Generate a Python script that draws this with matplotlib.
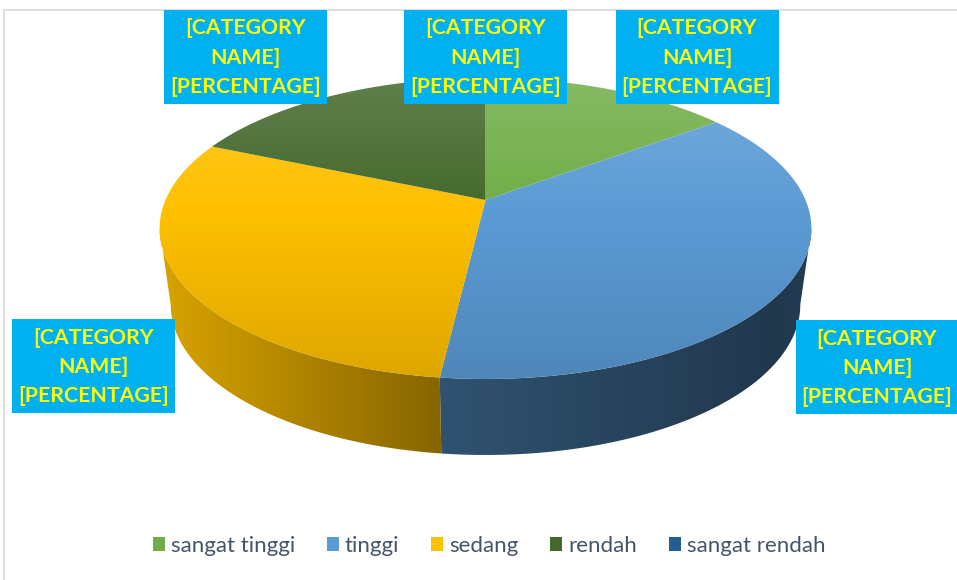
import numpy as np
import matplotlib
matplotlib.use("Agg")
import matplotlib.pyplot as plt
from matplotlib.patches import Polygon, Rectangle, Patch
from matplotlib.colors import to_rgb

# ---------------- data ----------------
categories = ["sangat tinggi", "tinggi", "sedang", "rendah", "sangat rendah"]
values = [4, 10, 8, 5, 0]
colors = ["#70AD47", "#5B9BD5", "#FFC000", "#43682B", "#255E91"]
label_text = "[CATEGORY\nNAME]\n[PERCENTAGE]"

# ---------------- figure ----------------
W, H = 957, 580
fig = plt.figure(figsize=(W / 100, H / 100), dpi=100)
ax = fig.add_axes([0, 0, 1, 1])
ax.set_xlim(0, W)
ax.set_ylim(H, 0)
ax.axis("off")

LABEL_FONT = ["Lato", "DejaVu Sans"]

# chart area border
ax.plot([4, 4], [9.5, H], color="#D9D9D9", lw=1.2, zorder=1)
ax.plot([4, W], [9.5, 9.5], color="#D9D9D9", lw=1.2, zorder=1)

# ---------------- 3D pie geometry ----------------
CX, CY = 485.5, 200.0
RX, CV, K = 320.0, 145.1, 0.1893
BOT_DY, BOT_CS, BOT_RS = 76.0, 1.0, 0.966


def project(theta_deg, bottom=False):
    t = np.radians(theta_deg)
    u, v = np.cos(t), np.sin(t)
    w = 1 + K * v
    if bottom:
        return CX + RX * BOT_RS * u / w, CY + BOT_DY - CV * BOT_CS * v / w
    return CX + RX * u / w, CY - CV * v / w


vals = np.asarray(values, dtype=float)
frac = vals / vals.sum()
cum = np.concatenate([[0], np.cumsum(frac)])
theta1 = 90 - cum[:-1] * 360   # start (clockwise)
theta2 = 90 - cum[1:] * 360    # end

a_min = np.degrees(np.arcsin(K))
vis_lo, vis_hi = 180 + a_min, 360 - a_min


def clip_image(rgb, extent, poly, z):
    im = ax.imshow(rgb, extent=extent, origin="upper", aspect="auto",
                   interpolation="bilinear", zorder=z)
    im.set_clip_path(poly)


def side_factor(x):
    return np.interp(x, [160, 440, 780, 812], [0.85, 0.53, 0.36, 0.40])


# side walls
for i in range(len(values)):
    if frac[i] <= 0:
        continue
    lo, hi = theta2[i], theta1[i]
    for shift in (-360, 0, 360):
        a, b = max(lo + shift, vis_lo), min(hi + shift, vis_hi)
        if b > a:
            th = np.linspace(a, b, 120)
            xt, yt = project(th)
            xb, yb = project(th[::-1], bottom=True)
            pts = np.column_stack([np.concatenate([xt, xb]), np.concatenate([yt, yb])])
            poly = Polygon(pts, closed=True, facecolor="none", edgecolor="none")
            ax.add_patch(poly)
            x0, x1 = pts[:, 0].min() - 2, pts[:, 0].max() + 2
            y0, y1 = pts[:, 1].min() - 2, pts[:, 1].max() + 2
            xs = np.linspace(x0, x1, 300)
            base = np.array(to_rgb(colors[i]))
            row = base[None, :] * side_factor(xs)[:, None]
            rgb = np.repeat(row[None, :, :], 4, axis=0)
            clip_image(np.clip(rgb, 0, 1), (x0, x1, y1, y0), poly, 2)

# top faces
for i in range(len(values)):
    if frac[i] <= 0:
        continue
    th = np.linspace(theta1[i], theta2[i], 200)
    xa, ya = project(th)
    pts = np.column_stack([np.concatenate([[CX], xa]), np.concatenate([[CY], ya])])
    poly = Polygon(pts, closed=True, facecolor="none", edgecolor="none")
    ax.add_patch(poly)
    x0, x1 = pts[:, 0].min() - 2, pts[:, 0].max() + 2
    y0, y1 = pts[:, 1].min() - 2, pts[:, 1].max() + 2
    ys = np.linspace(y0, y1, 300)
    t = np.clip((ys - 78) / (379 - 78), 0, 1)
    base = np.array(to_rgb(colors[i]))
    light = np.clip(0.16 * (0.45 - t) / 0.45, 0, None)
    dark = np.clip(0.13 * (t - 0.45) / 0.55, 0, None)
    col = base[None, :] * (1 - light[:, None]) + light[:, None]
    col = col * (1 - dark[:, None])
    rgb = np.repeat(col[:, None, :], 4, axis=1)
    clip_image(np.clip(rgb, 0, 1), (x0, x1, y1, y0), poly, 3)

ax.set_xlim(0, W)
ax.set_ylim(H, 0)

# ---------------- data labels ----------------
label_pos = {
    "sangat tinggi": (697, 56.5),
    "tinggi": (877, 367),
    "sedang": (93.5, 366),
    "rendah": (245.5, 56.5),
    "sangat rendah": (485.5, 56.5),
}
BW, BH = 163, 94
for cat in categories:
    x, y = label_pos[cat]
    ax.add_patch(Rectangle((x - BW / 2, y - BH / 2), BW, BH,
                           facecolor="#00B0F0", edgecolor="none", zorder=5))
    ax.text(x, y + 1, label_text, ha="center", va="center", color="#FFFF00",
            fontsize=15.3, fontweight="bold", family=LABEL_FONT,
            linespacing=1.58, zorder=6)

# ---------------- legend ----------------
handles = [Patch(facecolor=c, edgecolor="none") for c in colors]
leg = ax.legend(handles, categories, loc="center", bbox_to_anchor=(0.511, 1 - 546 / H),
                ncol=5, frameon=False, handlelength=0.55, handleheight=0.55,
                handletextpad=0.27, columnspacing=1.42,
                prop={"family": LABEL_FONT, "size": 16})
for t in leg.get_texts():
    t.set_color("#44546A")

fig.savefig("out.png", dpi=100)
